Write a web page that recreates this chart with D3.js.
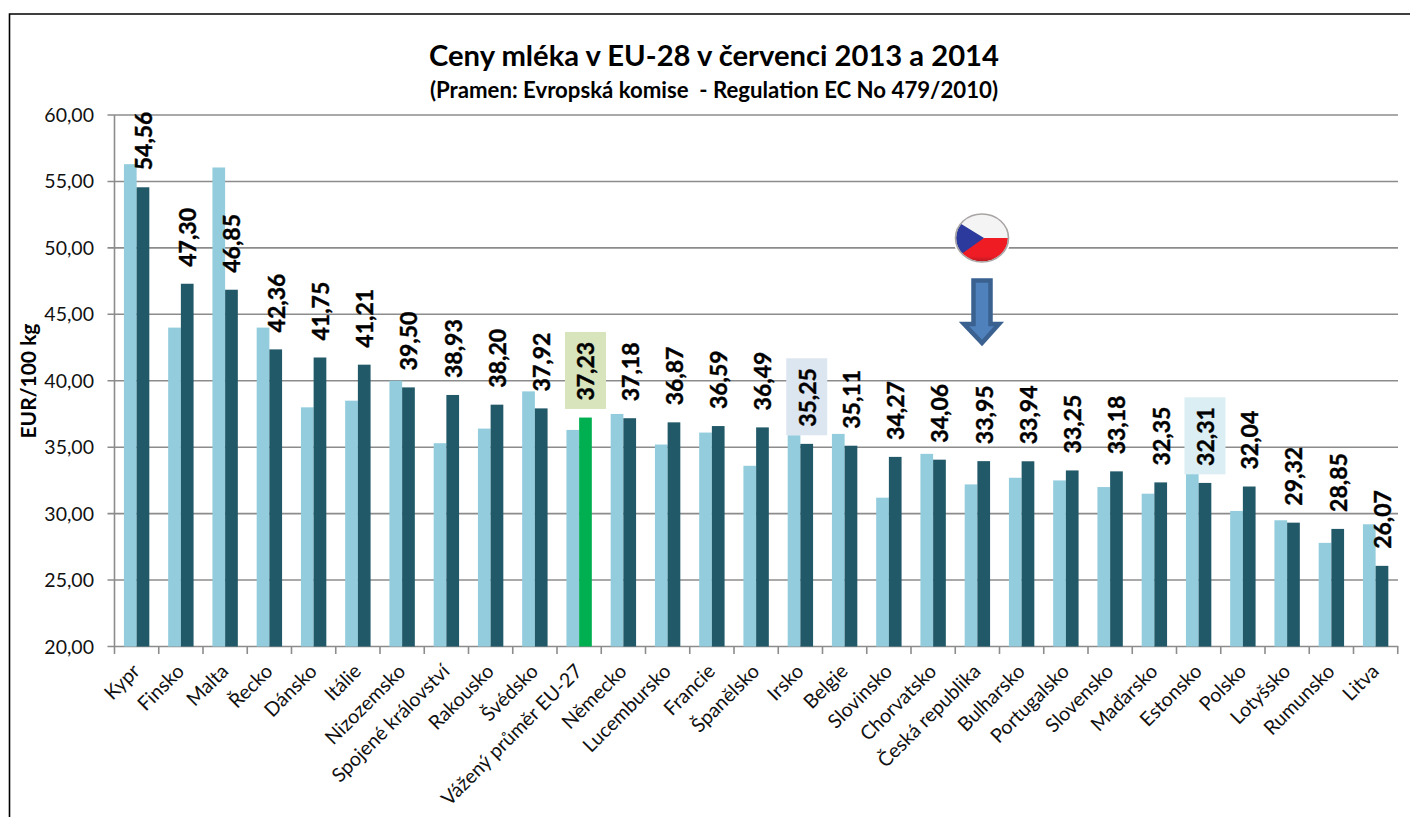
<!DOCTYPE html>
<html><head><meta charset="utf-8">
<script src="https://cdn.jsdelivr.net/npm/d3@7"></script>
<style>html,body{margin:0;padding:0;background:#fff}svg{display:block}text{font-family:Lato,"Noto Sans",sans-serif}</style>
</head><body><svg id="c" width="1410" height="817"></svg>
<script>
const categories=["Kypr","Finsko","Malta","Řecko","Dánsko","Itálie","Nizozemsko","Spojené království","Rakousko","Švédsko","Vážený průměr EU-27","Německo","Lucembursko","Francie","Španělsko","Irsko","Belgie","Slovinsko","Chorvatsko","Česká republika","Bulharsko","Portugalsko","Slovensko","Maďarsko","Estonsko","Polsko","Lotyšsko","Rumunsko","Litva"];
const values2013=[56.3,44.0,56.05,44.0,38.0,38.5,40.0,35.3,36.4,39.2,36.3,37.5,35.2,36.1,33.6,35.9,36.0,31.2,34.5,32.2,32.7,32.5,32.0,31.5,33.0,30.2,29.5,27.8,29.2];
const values2014=[54.56,47.30,46.85,42.36,41.75,41.21,39.50,38.93,38.20,37.92,37.23,37.18,36.87,36.59,36.49,35.25,35.11,34.27,34.06,33.95,33.94,33.25,33.18,32.35,32.31,32.04,29.32,28.85,26.07];
const yTicks=[20,25,30,35,40,45,50,55,60];
const highlighted={"Vážený průměr EU-27":"#d8e4bc","Irsko":"#dce6f1","Estonsko":"#daeef3"};
const title="Ceny mléka v EU-28 v červenci 2013 a 2014";
const subtitle="(Pramen: Evropská komise  - Regulation EC No 479/2010)";
const yLabel="EUR/100 kg";

const svg=d3.select("#c");
const fmt=v=>v.toFixed(2).replace(".",",");
const x=d3.scaleBand().domain(categories).range([114.5,1397.75]).paddingInner(0).paddingOuter(0);
const y=d3.scaleLinear().domain([20,60]).range([646.5,115]);
const inner=d3.scaleBand().domain(["a","b"]).range([x.bandwidth()*0.213,x.bandwidth()*0.787]).paddingInner(0).paddingOuter(0);

// frame: top and left rules only, running off the page
svg.append("path").attr("d","M9.5,817V14H1410").attr("fill","none").attr("stroke","#000").attr("stroke-width",1.6);

// grid
svg.append("g").selectAll("line").data(yTicks).join("line")
 .attr("x1",107.5).attr("x2",1398).attr("y1",d=>y(d)).attr("y2",d=>y(d))
 .attr("stroke","#8c8c8c").attr("stroke-width",1.6);
svg.append("g").selectAll("text").data(yTicks).join("text")
 .attr("x",94).attr("y",d=>y(d)+7).attr("text-anchor","end").attr("font-size",19.5).attr("fill","#111").text(d=>d.toFixed(2).replace(".",","));
// axis
svg.append("line").attr("x1",114.5).attr("x2",114.5).attr("y1",115).attr("y2",654).attr("stroke","#8c8c8c").attr("stroke-width",1.6);
svg.append("g").selectAll("line").data(categories).join("line")
 .attr("x1",d=>x(d)+x.bandwidth()).attr("x2",d=>x(d)+x.bandwidth()).attr("y1",646).attr("y2",654)
 .attr("stroke","#8c8c8c").attr("stroke-width",1.6);

// bars
const gb=svg.append("g");
gb.selectAll("rect.a").data(categories).join("rect").attr("class","a")
 .attr("x",d=>x(d)+inner("a")).attr("width",inner.bandwidth())
 .attr("y",(d,i)=>y(values2013[i])).attr("height",(d,i)=>y(20)-y(values2013[i])).attr("fill","#93cddd");
gb.selectAll("rect.b").data(categories).join("rect").attr("class","b")
 .attr("x",d=>x(d)+inner("b")).attr("width",inner.bandwidth())
 .attr("y",(d,i)=>y(values2014[i])).attr("height",(d,i)=>y(20)-y(values2014[i]))
 .attr("fill",d=>d==="Vážený průměr EU-27"?"#00b050":"#215968");

// value labels
const lab=svg.append("g");
categories.forEach((c,i)=>{
  const cx=x(c)+inner("b")+inner.bandwidth()/2, by=y(values2014[i])-17;
  if(highlighted[c]) lab.append("rect").attr("x",cx-20.5).attr("y",by-68.6).attr("width",41).attr("height",77).attr("fill",highlighted[c]);
  lab.append("text").attr("transform",`translate(${cx+9},${by}) rotate(-90)`).attr("font-size",23).attr("font-weight",700).attr("fill","#000").attr("stroke","#000").attr("stroke-width",0.4).text(fmt(values2014[i]));
});

// category labels
svg.append("g").selectAll("text").data(categories).join("text")
 .attr("transform",d=>`translate(${x(d)+x.bandwidth()/2+4.5},${672.5}) rotate(-45)`)
 .attr("text-anchor","end").attr("font-size",19.7).attr("fill","#111").text(d=>d);

// titles
svg.append("text").attr("x",714).attr("y",66).attr("text-anchor","middle").attr("font-size",29.2).attr("font-weight",700).attr("fill","#000").text(title);
svg.append("text").attr("x",714).attr("y",97.5).attr("text-anchor","middle").attr("font-size",22.2).attr("font-weight",700).attr("fill","#000").attr("xml:space","preserve").text(subtitle);
svg.append("text").attr("transform","translate(36,381) rotate(-90)").attr("text-anchor","middle").attr("font-size",21).attr("font-weight",700).attr("fill","#000").text(yLabel);

// flag badge
const defs=svg.append("defs");
defs.append("clipPath").attr("id","fl").append("ellipse").attr("cx",982).attr("cy",238).attr("rx",26).attr("ry",23.5);
const red=defs.append("linearGradient").attr("id","redG").attr("x1",0).attr("x2",0).attr("y1",0).attr("y2",1);
red.append("stop").attr("offset",0).attr("stop-color","#f01c24");
red.append("stop").attr("offset",0.7).attr("stop-color","#ee1c25");
red.append("stop").attr("offset",1).attr("stop-color","#a01a22");
const f=svg.append("g");
f.append("ellipse").attr("cx",982).attr("cy",238).attr("rx",29).attr("ry",26).attr("fill","#fff");
const fc=f.append("g").attr("clip-path","url(#fl)");
fc.append("rect").attr("x",950).attr("y",210).attr("width",64).attr("height",29).attr("fill","#f4f4f4");
fc.append("path").attr("d","M950,252L984,238H1014V264H950Z").attr("fill","url(#redG)");
fc.append("path").attr("d","M950,217L984,238L950,262Z").attr("fill","#2b3a9c");
f.append("ellipse").attr("cx",982).attr("cy",238).attr("rx",26.5).attr("ry",24).attr("fill","none").attr("stroke","#a9a4a4").attr("stroke-width",1.6);

// arrow
svg.append("path").attr("d","M973.5,280.5H990.5V324H999L982,343L964,324H973.5Z").attr("fill","#4f81bd").attr("stroke","#3a6190").attr("stroke-width",4.5);
</script></body></html>
